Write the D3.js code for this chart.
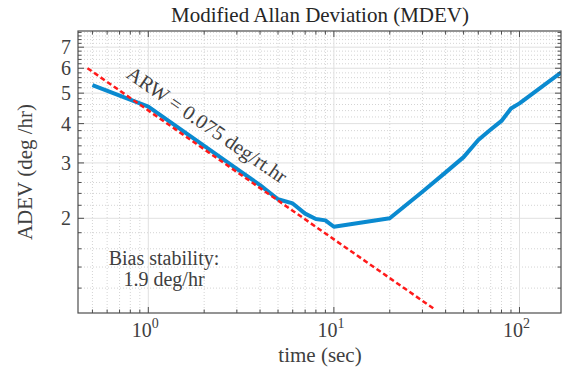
<!DOCTYPE html>
<html>
<head>
<meta charset="utf-8">
<script src="https://cdn.jsdelivr.net/npm/d3@7"></script>
<style>
  body { margin: 0; background: #fff; }
  svg { display: block; font-family: "Liberation Serif", "Times New Roman", serif; }
</style>
</head>
<body>
<svg id="chart" width="574" height="372"></svg>
<script>

// measured MDEV curve
var tau = [0.5, 1, 2, 3, 4, 5, 6, 7, 8, 9, 10, 20, 30, 40, 50, 60, 70, 80, 90, 100, 168]
var mdev = [5.30, 4.53, 3.40, 2.87, 2.55, 2.30, 2.23, 2.07, 1.99, 1.97, 1.88, 2.00, 2.43, 2.80, 3.13, 3.55, 3.83, 4.08, 4.47, 4.64, 5.82]

// angle random walk fit line
var arwTau = [0.47, 34.3]
var arwVal = [6.0, 1.035]

var xTicks = [1, 10, 100]
var xTickExp = ["0", "1", "2"]
var yTicks = [2, 3, 4, 5, 6, 7]

var title = "Modified Allan Deviation (MDEV)"
var xLabel = "time (sec)"
var yLabel = "ADEV (deg /hr)"
var arwText = "ARW = 0.075 deg/rt.hr"
var biasText = ["Bias stability:", "1.9 deg/hr"]

var svg = d3.select("#chart")

var x = d3.scaleLog().domain([0.418, 167.4]).range([78, 561])
var y = d3.scaleLog().domain([1, 7.88]).range([313, 31])

var xMinor = []
;[0.1, 1, 10, 100].forEach(function(b) {
    for (var k = 2; k <= 9; k++) {
        var v = b * k
        if (v > x.domain()[0] && v < x.domain()[1]) xMinor.push(v)
    }
})
var yMinor = d3.range(12, 79, 2).map(function(d) { return d / 10 })
                .filter(function(d) { return d % 1 != 0 })

var grid = svg.append("g")

grid.selectAll(".xminor")
        .data(xMinor)
        .enter().append("line")
        .attr("x1", function(d) { return x(d) })
        .attr("x2", function(d) { return x(d) })
        .attr("y1", 31)
        .attr("y2", 313)
        .attr("stroke", "#d4d4d4")
        .attr("stroke-dasharray", "1,2")

grid.selectAll(".yminor")
        .data(yMinor)
        .enter().append("line")
        .attr("x1", 78)
        .attr("x2", 561)
        .attr("y1", function(d) { return y(d) })
        .attr("y2", function(d) { return y(d) })
        .attr("stroke", "#d4d4d4")
        .attr("stroke-dasharray", "1,2")

grid.selectAll(".xmajor")
        .data(xTicks)
        .enter().append("line")
        .attr("x1", function(d) { return x(d) })
        .attr("x2", function(d) { return x(d) })
        .attr("y1", 31)
        .attr("y2", 313)
        .attr("stroke", "#e0e0e0")

grid.selectAll(".ymajor")
        .data(yTicks)
        .enter().append("line")
        .attr("x1", 78)
        .attr("x2", 561)
        .attr("y1", function(d) { return y(d) })
        .attr("y2", function(d) { return y(d) })
        .attr("stroke", "#e0e0e0")

svg.append("clipPath")
        .attr("id", "clip")
        .append("rect")
        .attr("x", 78)
        .attr("y", 31)
        .attr("width", 483)
        .attr("height", 282)

var line = d3.line()
        .x(function(d) { return x(d[0]) })
        .y(function(d) { return y(d[1]) })

svg.append("path")
        .datum(d3.zip(tau, mdev))
        .attr("clip-path", "url(#clip)")
        .attr("d", line)
        .attr("fill", "none")
        .attr("stroke", "#0a8ad0")
        .attr("stroke-width", 4)
        .attr("stroke-linejoin", "round")

svg.append("path")
        .datum(d3.zip(arwTau, arwVal))
        .attr("clip-path", "url(#clip)")
        .attr("d", line)
        .attr("fill", "none")
        .attr("stroke", "#ff1a1a")
        .attr("stroke-width", 2.5)
        .attr("stroke-dasharray", "5,3")

// box and ticks, MATLAB style (inward, on all four sides)
var axisColor = "#4d4d4d"

svg.append("rect")
        .attr("x", 78)
        .attr("y", 31)
        .attr("width", 483)
        .attr("height", 282)
        .attr("fill", "none")
        .attr("stroke", axisColor)
        .attr("stroke-width", 1.2)

var ticks = svg.append("g").attr("stroke", axisColor)

function xTick(list, len) {
    ticks.selectAll(null).data(list).enter().append("line")
        .attr("x1", function(d) { return x(d) }).attr("x2", function(d) { return x(d) })
        .attr("y1", 313).attr("y2", 313 - len)
    ticks.selectAll(null).data(list).enter().append("line")
        .attr("x1", function(d) { return x(d) }).attr("x2", function(d) { return x(d) })
        .attr("y1", 31).attr("y2", 31 + len)
}
function yTick(list, len) {
    ticks.selectAll(null).data(list).enter().append("line")
        .attr("y1", function(d) { return y(d) }).attr("y2", function(d) { return y(d) })
        .attr("x1", 78).attr("x2", 78 + len)
    ticks.selectAll(null).data(list).enter().append("line")
        .attr("y1", function(d) { return y(d) }).attr("y2", function(d) { return y(d) })
        .attr("x1", 561).attr("x2", 561 - len)
}
xTick(xTicks, 6)
xTick(xMinor, 3.5)
yTick(yTicks, 6)
yTick(yMinor, 3.5)

var textColor = "#404040"

svg.selectAll(".ylab")
        .data(yTicks)
        .enter().append("text")
        .attr("x", 71)
        .attr("y", function(d) { return y(d) + 7 })
        .attr("text-anchor", "end")
        .attr("font-size", "20px")
        .attr("fill", textColor)
        .text(function(d) { return d })

var xl = svg.selectAll(".xlab")
        .data(xTicks)
        .enter().append("text")
        .attr("x", function(d) { return x(d) - 3 })
        .attr("y", 337)
        .attr("text-anchor", "middle")
        .attr("font-size", "20px")
        .attr("fill", textColor)

xl.append("tspan").text("10")
xl.append("tspan")
        .attr("dy", -9)
        .attr("font-size", "14px")
        .text(function(d, i) { return xTickExp[i] })

svg.append("text")
        .attr("x", 320)
        .attr("y", 22)
        .attr("text-anchor", "middle")
        .attr("font-size", "21px")
        .attr("fill", "#262626")
        .text(title)

svg.append("text")
        .attr("x", 320)
        .attr("y", 362)
        .attr("text-anchor", "middle")
        .attr("font-size", "21px")
        .attr("fill", textColor)
        .text(xLabel)

svg.append("text")
        .attr("transform", "translate(32, 172) rotate(-90)")
        .attr("text-anchor", "middle")
        .attr("font-size", "21px")
        .attr("fill", textColor)
        .text(yLabel)

svg.append("text")
        .attr("transform", "translate(203, 130.5) rotate(34.5)")
        .attr("text-anchor", "middle")
        .attr("font-size", "20.5px")
        .attr("fill", textColor)
        .text(arwText)

svg.selectAll(".bias")
        .data(biasText)
        .enter().append("text")
        .attr("x", 164)
        .attr("y", function(d, i) { return 265 + i * 21 })
        .attr("text-anchor", "middle")
        .attr("font-size", "20px")
        .attr("fill", textColor)
        .text(function(d) { return d })

</script>
</body>
</html>
